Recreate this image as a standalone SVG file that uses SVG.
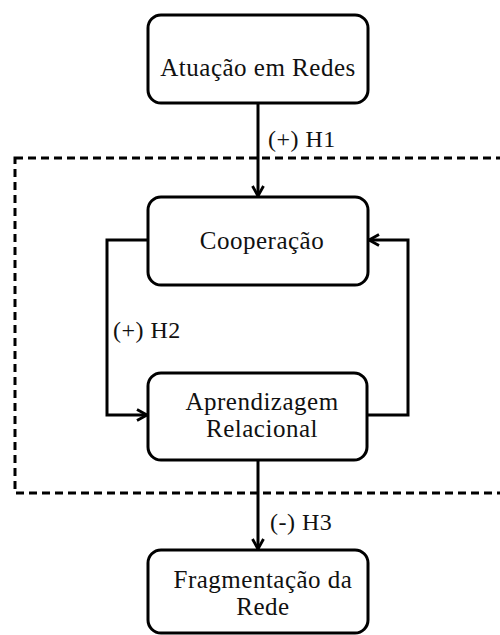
<svg xmlns="http://www.w3.org/2000/svg" width="500" height="635" viewBox="0 0 500 635">
<style>
.box{fill:#fff;stroke:#000;stroke-width:3}
.t{font-family:"Liberation Serif","Times New Roman",serif;font-size:25px;fill:#111;text-anchor:middle;letter-spacing:0.5px}
.l{font-family:"Liberation Serif","Times New Roman",serif;font-size:24px;fill:#111;letter-spacing:0.5px}
.c{fill:none;stroke:#000;stroke-width:3}
</style>
<defs>
<marker id="ah" viewBox="0 0 14 14" refX="12" refY="7" markerWidth="14" markerHeight="14" markerUnits="userSpaceOnUse" orient="auto">
<path d="M2,1.5 L12,7 L2,12.5" fill="none" stroke="#000" stroke-width="2.8"/>
</marker>
</defs>
<rect x="15" y="158" width="500" height="335" fill="none" stroke="#000" stroke-width="3" stroke-dasharray="8,5"/>
<g id="connectors">
<line class="c" x1="258" y1="103" x2="258" y2="196" marker-end="url(#ah)"/>
<polyline class="c" points="148,240 107,240 107,415 147,415" marker-end="url(#ah)"/>
<polyline class="c" points="367,415 408,415 408,240 369,240" marker-end="url(#ah)"/>
<line class="c" x1="258" y1="460" x2="258" y2="549" marker-end="url(#ah)"/>
<text class="l" x="268" y="147">(+) H1</text>
<text class="l" x="113" y="338">(+) H2</text>
<text class="l" x="270" y="530">(-) H3</text>
</g>
<g id="n1">
<rect class="box" x="148" y="15" width="220" height="88" rx="13"/>
<text class="t" x="258" y="76">Atuação em Redes</text>
</g>
<g id="n2">
<rect class="box" x="148" y="197" width="220" height="88" rx="13"/>
<text class="t" x="262" y="249">Cooperação</text>
</g>
<g id="n3">
<rect class="box" x="148" y="373" width="219" height="87" rx="13"/>
<text class="t" x="262" y="410">Aprendizagem</text>
<text class="t" x="262" y="437">Relacional</text>
</g>
<g id="n4">
<rect class="box" x="148" y="550" width="220" height="83" rx="13"/>
<text class="t" x="263" y="588">Fragmentação da</text>
<text class="t" x="263" y="615">Rede</text>
</g>
</svg>
